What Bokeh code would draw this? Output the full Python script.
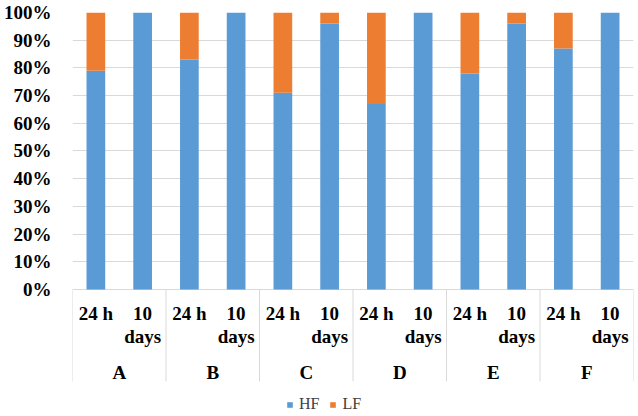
from bokeh.plotting import figure
from bokeh.models import (Range1d, FixedTicker, CustomJSTickFormatter, ColumnDataSource,
                          Legend, LegendItem)
from bokeh.core.properties import value
from bokeh.embed import file_html
from bokeh.resources import INLINE

groups = ["A", "B", "C", "D", "E", "F"]
times = ["24 h", "10\ndays"]
hf = [79, 100, 83, 100, 71, 96, 67, 100, 78, 96, 87, 100]
lf = [21, 0, 17, 0, 29, 4, 33, 0, 22, 4, 13, 0]
y_ticks = [0, 10, 20, 30, 40, 50, 60, 70, 80, 90, 100]

BLUE = "#5B9BD5"
ORANGE = "#ED7D31"
GRID = "#D9D9D9"
FONT = "Liberation Serif"

n = len(groups) * len(times)
xs = list(range(n))
labels = [t for g in groups for t in times]
hf_frac = [v / 100 for v in hf]
lf_top = [(h + l) / 100 for h, l in zip(hf, lf)]

p = figure(width=638, height=416, output_backend="svg", toolbar_location=None,
           x_range=Range1d(-0.5, n - 0.5), y_range=Range1d(-0.4585, 1.0),
           x_axis_location=None, min_border_left=62, min_border_right=5,
           min_border_top=12, min_border_bottom=0)
p.outline_line_color = None
p.xgrid.grid_line_color = None
p.ygrid.grid_line_color = GRID
p.ygrid.grid_line_width = 1

p.yaxis.ticker = FixedTicker(ticks=[v / 100 for v in y_ticks])
p.yaxis.formatter = CustomJSTickFormatter(code="return Math.round(tick*100) + '%';")
p.yaxis.axis_line_color = None
p.yaxis.major_tick_line_color = None
p.yaxis.minor_tick_line_color = None
p.yaxis.major_label_text_font = FONT
p.yaxis.major_label_text_font_style = "bold"
p.yaxis.major_label_text_font_size = "19px"
p.yaxis.major_label_text_color = "#000000"
p.yaxis.major_label_standoff = 15

src = ColumnDataSource(dict(x=xs, hf=hf_frac, lf=lf_top, lab=labels))
r_hf = p.vbar(x="x", top="hf", bottom=0, width=0.4, source=src, fill_color=BLUE, line_color=None)
r_lf = p.vbar(x="x", top="lf", bottom="hf", width=0.4, source=src, fill_color=ORANGE, line_color=None)

# sub-category labels
p.text(x="x", y=0, text="lab", source=src, text_font=value(FONT), text_font_style="bold",
       text_font_size="19px", text_align="center", text_baseline="top", y_offset=14,
       text_line_height=1.05, text_color="#000000")

# group labels
gx = [i * len(times) + (len(times) - 1) / 2 for i in range(len(groups))]
p.text(x=gx, y=[0] * len(groups), text=groups, text_font=value(FONT), text_font_style="bold",
       text_font_size="19px", text_align="center", text_baseline="middle", y_offset=83,
       text_color="#000000")

# group separators
sx = [i * len(times) - 0.5 for i in range(len(groups) + 1)]
p.segment(x0=sx, y0=[0] * len(sx), x1=sx, y1=[-0.332] * len(sx), line_color=GRID, line_width=1)

legend = Legend(items=[LegendItem(label="HF", renderers=[r_hf]),
                       LegendItem(label="LF", renderers=[r_lf])],
                orientation="horizontal", location=(214, 3))
legend.label_text_font = FONT
legend.label_text_font_size = "16px"
legend.label_text_color = "#404040"
legend.glyph_width = 7
legend.glyph_height = 7
legend.label_height = 16
legend.label_standoff = 6
legend.spacing = 10
legend.padding = 0
legend.margin = 0
legend.border_line_color = None
legend.background_fill_alpha = 0
p.add_layout(legend)

open("out.html", "w").write(file_html(p, INLINE))
